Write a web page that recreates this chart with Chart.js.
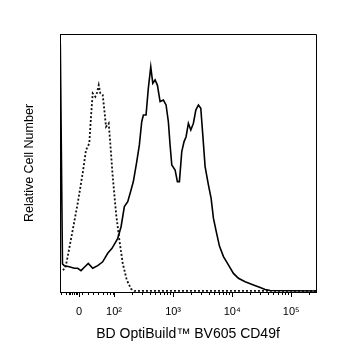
<!DOCTYPE html>
<html>
<head>
<meta charset="utf-8">
<title>CD49f histogram</title>
<script src="https://cdn.jsdelivr.net/npm/chart.js@4"></script>
<style>
  html, body { margin: 0; padding: 0; background: #fff; }
  canvas { display: block; }
</style>
</head>
<body>
<canvas id="histChart" width="337" height="360"></canvas>
<script>
// x values are positions on the biexponential display scale (2 = 10^2, 3 = 10^3 ...)
const solidX = [1.09, 1.127, 1.158, 1.242, 1.327, 1.385, 1.441, 1.497, 1.564, 1.639, 1.724, 1.808, 1.893, 1.966,
  2.063, 2.119, 2.175, 2.232, 2.288, 2.327, 2.385, 2.429, 2.469, 2.497, 2.542, 2.581, 2.622, 2.656, 2.695, 2.734,
  2.780, 2.836, 2.881, 2.920, 2.949, 2.978, 3.034, 3.073, 3.107, 3.147, 3.186, 3.220, 3.259, 3.300, 3.344, 3.385,
  3.429, 3.469, 3.503, 3.542, 3.598, 3.644, 3.683, 3.729, 3.785, 3.853, 3.937, 4.022, 4.107, 4.220, 4.361, 4.475,
  4.559, 4.644, 5.42];
const solidY = [96.1, 10.9, 10.2, 9.8, 9.2, 9.2, 8.3, 9.6, 11.1, 9.2, 10.2, 11.7, 15.0, 16.9,
  20.8, 25.3, 33.1, 35.0, 39.5, 42.8, 50.5, 57.0, 66.0, 68.6, 68.6, 79.0, 87.3, 80.9, 82.2, 80.2,
  73.8, 74.4, 72.5, 66.0, 57.0, 49.2, 47.3, 42.8, 42.8, 54.4, 58.3, 60.2, 65.4, 62.8, 65.4, 70.5,
  72.5, 71.2, 60.9, 48.6, 41.5, 36.3, 28.6, 23.6, 17.8, 13.7, 10.5, 7.2, 5.3, 4.0, 2.7, 1.7,
  1.0, 0.6, 0.4];

const isoX = [1.131, 1.175, 1.215, 1.300, 1.385, 1.469, 1.525, 1.581, 1.610, 1.639, 1.683, 1.712, 1.741, 1.768,
  1.808, 1.836, 1.864, 1.910, 1.932, 1.978, 2.034, 2.090, 2.147, 2.215, 2.288, 2.344, 5.42];
const isoY = [8.5, 9.2, 13.7, 24.0, 34.4, 46.0, 55.0, 57.6, 67.9, 77.0, 75.7, 77.2, 80.2, 77.0,
  76.4, 70.5, 64.1, 65.4, 58.9, 44.7, 30.5, 20.2, 11.1, 4.7, 1.2, 0.4, 0.4];

const majorTicks = [1.407, 2, 3, 4, 5];
const majorLabels = ['0', '10\u00B2', '10\u00B3', '10\u2074', '10\u2075'];
const lowMinorTicks = [1.10, 1.19, 1.23, 1.26, 1.29, 1.32, 1.35, 1.38, 1.45, 1.56, 1.64, 1.73, 1.81, 1.88, 1.93, 1.98];

const xMin = 1.085, xMax = 5.42;
const FONT = "'Liberation Sans', Arial, sans-serif";

// log minor ticks inside each decade
const minorTicks = lowMinorTicks.slice();
for (let d = 2; d <= 5; d++) {
  for (let k = 2; k <= 9; k++) {
    const v = d + Math.log10(k);
    if (v < xMax) minorTicks.push(v);
  }
}

const toPoints = (xs, ys) => xs.map((x, i) => ({ x: x, y: ys[i] }));

// short minor ticks under the x axis + closed frame around the plot
const framePlugin = {
  id: 'frame',
  afterDraw(chart) {
    const { ctx, chartArea: a } = chart;
    const sx = chart.scales.x;
    ctx.save();
    ctx.strokeStyle = '#000';
    ctx.lineWidth = 1;
    ctx.beginPath();
    minorTicks.forEach(v => {
      const px = Math.round(sx.getPixelForValue(v)) + 0.5;
      ctx.moveTo(px, a.bottom);
      ctx.lineTo(px, a.bottom + 3);
    });
    ctx.stroke();
    ctx.beginPath();
    ctx.moveTo(a.left, a.top + 0.5);
    ctx.lineTo(a.right + 0.5, a.top + 0.5);
    ctx.lineTo(a.right + 0.5, a.bottom);
    ctx.stroke();
    ctx.restore();
  }
};

new Chart(document.getElementById('histChart'), {
  type: 'line',
  data: {
    datasets: [
      {
        label: 'CD49f',
        data: toPoints(solidX, solidY),
        borderColor: '#000',
        borderWidth: 1.6,
        pointRadius: 0,
        tension: 0
      },
      {
        label: 'Isotype',
        data: toPoints(isoX, isoY),
        borderColor: '#111',
        borderWidth: 1.8,
        borderDash: [2, 2],
        pointRadius: 0,
        tension: 0
      }
    ]
  },
  options: {
    responsive: false,
    animation: false,
    devicePixelRatio: 1,
    layout: { padding: { top: 34, right: 21, left: 0, bottom: 0 } },
    plugins: { legend: { display: false }, tooltip: { enabled: false } },
    scales: {
      x: {
        type: 'linear',
        min: xMin,
        max: xMax,
        afterBuildTicks: scale => { scale.ticks = majorTicks.map(v => ({ value: v })); },
        afterFit: scale => { scale.height = 68; },
        ticks: {
          autoSkip: false,
          maxRotation: 0,
          padding: 8,
          color: '#000',
          font: { family: FONT, size: 11 },
          callback: (val, i) => majorLabels[i]
        },
        grid: { drawOnChartArea: false, tickLength: 5, tickColor: '#000', color: '#000' },
        border: { display: true, color: '#000', width: 1 },
        title: {
          display: true,
          text: 'BD OptiBuild\u2122 BV605 CD49f',
          color: '#000',
          font: { family: FONT, size: 14 },
          padding: { top: 0, bottom: 17 }
        }
      },
      y: {
        min: 0,
        max: 100,
        afterFit: scale => { scale.width = 60; },
        ticks: { display: false },
        grid: { display: false, drawTicks: false },
        border: { display: true, color: '#000', width: 1 },
        title: {
          display: true,
          text: 'Relative Cell Number',
          color: '#000',
          font: { family: FONT, size: 12.5 },
          padding: { top: 22, bottom: 0 }
        }
      }
    }
  },
  plugins: [framePlugin]
});
</script>
</body>
</html>
